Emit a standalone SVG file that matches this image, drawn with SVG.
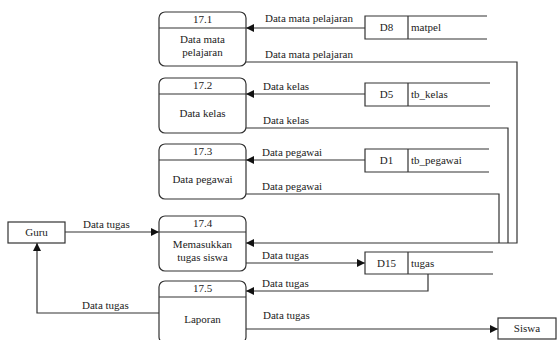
<svg xmlns="http://www.w3.org/2000/svg" width="560" height="340" viewBox="0 0 560 340">
<style>
text{font-size:11px;fill:#222}
.c{text-anchor:middle}
.s{fill:#fff;stroke:#333;stroke-width:1.2}
.l{fill:none;stroke:#333;stroke-width:1.2}
</style>
<defs>
<marker id="a" viewBox="0 0 10 10" refX="10" refY="5" markerWidth="8" markerHeight="8" markerUnits="userSpaceOnUse" orient="auto">
<path d="M0,0L10,5L0,10z" fill="#111"/>
</marker>
</defs>
<rect width="560" height="340" fill="#fff"/>
<g font-family="Liberation Serif, Times New Roman, DejaVu Serif, serif">
<g id="connectors">
<path class="l" d="M365,28H246" marker-end="url(#a)"/>
<text x="265" y="22">Data mata pelajaran</text>
<path class="l" d="M246,62H517V243H246" marker-end="url(#a)"/>
<text x="265" y="58">Data mata pelajaran</text>
<path class="l" d="M365,94H246" marker-end="url(#a)"/>
<text x="263" y="90">Data kelas</text>
<path class="l" d="M246,128H508V243"/>
<text x="263" y="124">Data kelas</text>
<path class="l" d="M365,160H246" marker-end="url(#a)"/>
<text x="262" y="156">Data pegawai</text>
<path class="l" d="M246,194H499V243"/>
<text x="262" y="190">Data pegawai</text>
<path class="l" d="M65,232H159" marker-end="url(#a)"/>
<text x="83" y="228">Data tugas</text>
<path class="l" d="M159,313H37V243" marker-end="url(#a)"/>
<text x="82" y="309">Data tugas</text>
<path class="l" d="M246,263H365" marker-end="url(#a)"/>
<text x="262" y="259">Data tugas</text>
<path class="l" d="M428,274V291H246" marker-end="url(#a)"/>
<text x="262" y="287">Data tugas</text>
<path class="l" d="M246,329H498" marker-end="url(#a)"/>
<text x="263" y="319">Data tugas</text>
</g>
<g id="p171">
<rect class="s" x="159" y="12" width="87" height="54" rx="6"/>
<path class="l" d="M159,28H246"/>
<text class="c" x="202.5" y="23">17.1</text>
<text class="c" x="202.5" y="43">Data mata</text>
<text class="c" x="202.5" y="56">pelajaran</text>
</g>
<g id="p172">
<rect class="s" x="159" y="78" width="87" height="55" rx="6"/>
<path class="l" d="M159,94H246"/>
<text class="c" x="202.5" y="89">17.2</text>
<text class="c" x="202.5" y="117">Data kelas</text>
</g>
<g id="p173">
<rect class="s" x="159" y="144" width="87" height="55" rx="6"/>
<path class="l" d="M159,160H246"/>
<text class="c" x="202.5" y="155">17.3</text>
<text class="c" x="202.5" y="183">Data pegawai</text>
</g>
<g id="p174">
<rect class="s" x="159" y="216" width="87" height="55" rx="6"/>
<path class="l" d="M159,232H246"/>
<text class="c" x="202.5" y="227">17.4</text>
<text class="c" x="202.5" y="248">Memasukkan</text>
<text class="c" x="202.5" y="261">tugas siswa</text>
</g>
<g id="p175">
<rect class="s" x="159" y="281" width="87" height="62" rx="6"/>
<path class="l" d="M159,297H246"/>
<text class="c" x="202.5" y="292">17.5</text>
<text class="c" x="202.5" y="323">Laporan</text>
</g>
<g id="d8">
<path class="l" d="M487,16H365V39H487M408,16V39"/>
<text class="c" x="386.5" y="31">D8</text>
<text x="411" y="31">matpel</text>
</g>
<g id="d5">
<path class="l" d="M490,83H365V106H490M408,83V106"/>
<text class="c" x="386.5" y="98">D5</text>
<text x="411" y="98">tb_kelas</text>
</g>
<g id="d1">
<path class="l" d="M489,149H365V172H489M408,149V172"/>
<text class="c" x="386.5" y="164">D1</text>
<text x="411" y="164">tb_pegawai</text>
</g>
<g id="d15">
<path class="l" d="M493,252H365V274H493M408,252V274"/>
<text class="c" x="386.5" y="267">D15</text>
<text x="411" y="267">tugas</text>
</g>
<g id="guru">
<rect class="s" x="8" y="222" width="57" height="21"/>
<text class="c" x="36.5" y="236">Guru</text>
</g>
<g id="siswa">
<rect class="s" x="498" y="318" width="58" height="21"/>
<text class="c" x="527" y="332">Siswa</text>
</g>
</g>
</svg>
